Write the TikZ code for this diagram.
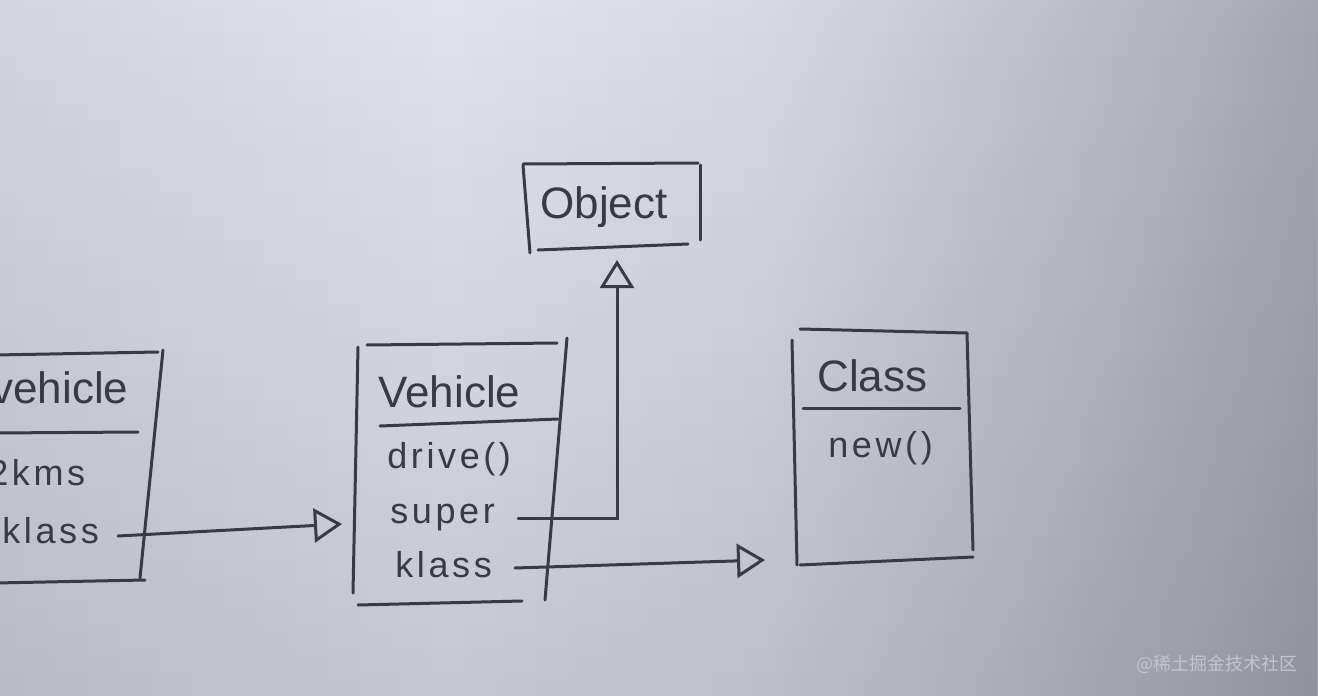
\documentclass[tikz,border=0pt]{standalone}
\usepackage{fontspec}
\setmainfont{Liberation Sans}
\newfontfamily\hand[LetterSpace=10]{Liberation Sans}
\newfontfamily\cjk{Noto Sans CJK SC}
\usetikzlibrary{arrows.meta,fadings}
\definecolor{ink}{HTML}{3A3A44}
\definecolor{bgA}{HTML}{D5D5DF}
\definecolor{bgB}{HTML}{E2E2EA}
\definecolor{bgC}{HTML}{D9D9E1}
\definecolor{bgD}{HTML}{C0C0C8}
\definecolor{bgE}{HTML}{A6A6B0}
\definecolor{wm}{HTML}{C4C4CC}
\pgfdeclarehorizontalshading{paper}{100bp}{color(0bp)=(bgA); color(25bp)=(bgA); color(42bp)=(bgB); color(54bp)=(bgC); color(65bp)=(bgD); color(75bp)=(bgE); color(100bp)=(bgE)}
\tikzfading[name=darkbottom, top color=transparent!100, bottom color=transparent!88]
\tikzset{
  ln/.style={draw=ink, line width=1.5pt, line cap=round},
  conn/.style={ln, -{Triangle[open, length=14pt, width=17pt, line width=1.5pt]}},
  ttl/.style={anchor=base west, inner sep=0, text=ink, font=\fontsize{22}{22}\selectfont},
  mem/.style={anchor=base west, inner sep=0, text=ink, font=\hand\fontsize{18}{18}\selectfont},
}
\begin{document}
\begin{tikzpicture}[x=0.5pt, y=-0.5pt]
\useasboundingbox (0,0) rectangle (1318,696);
\clip (0,0) rectangle (1318,696);
\shade[shading=paper] (0,0) rectangle (1318,696);
\fill[black, path fading=darkbottom] (0,0) rectangle (1318,696);

% left (cut) box
\draw[ln] (-5,355) -- (158,352);
\draw[ln] (163,350) -- (140,578);
\draw[ln] (-5,433) -- (138,432);
\draw[ln] (-5,583) -- (145,580);
\node[ttl] (lveh) at (-9,403) {vehicle};
\node[mem] (lkms) at (-12,485) {2kms};
\node[mem] (lkls) at (2,543) {klass};

% Vehicle box
\draw[ln] (367,345) -- (557,343);
\draw[ln] (358,347) -- (353,593);
\draw[ln] (567,338) -- (545,600);
\draw[ln] (380,426) -- (558,419);
\draw[ln] (358,605) -- (522,601);
\node[ttl] (veh) at (378,407) {Vehicle};
\node[mem] (drv) at (387,468) {drive()};
\node[mem] (sup) at (390,523) {super};
\node[mem] (kls) at (395,577) {klass};

% Object box
\draw[ln] (523,164) -- (698,163);
\draw[ln] (523,165) -- (530,253);
\draw[ln] (700,165) -- (700,240);
\draw[ln] (538,250) -- (688,244);
\node[ttl] (obj) at (540,218) {Object};

% Class box
\draw[ln] (800,329) -- (967,333);
\draw[ln] (792,340) -- (797,565);
\draw[ln] (967,333) -- (973,550);
\draw[ln] (803,408) -- (960,408);
\draw[ln] (800,565) -- (973,557);
\node[ttl] (cls) at (817,391) {Class};
\node[mem] (new) at (828,457) {new()};

% connector end points
\coordinate (lklsS) at (118,536);
\coordinate (vehW) at (342,524);
\coordinate (supS) at (518,518);
\coordinate (objS) at (617,260);
\coordinate (klsS) at (515,568);
\coordinate (clsW) at (765,560);

\draw[conn] (lklsS) -- (vehW);
\draw[conn] (supS) -| (objS);
\draw[conn] (klsS) -- (clsW);

\node[anchor=base west, inner sep=0, text=wm, font=\cjk\fontsize{9}{9}\selectfont] (wmk) at (1136,670) {@稀土掘金技术社区};
\end{tikzpicture}
\end{document}
